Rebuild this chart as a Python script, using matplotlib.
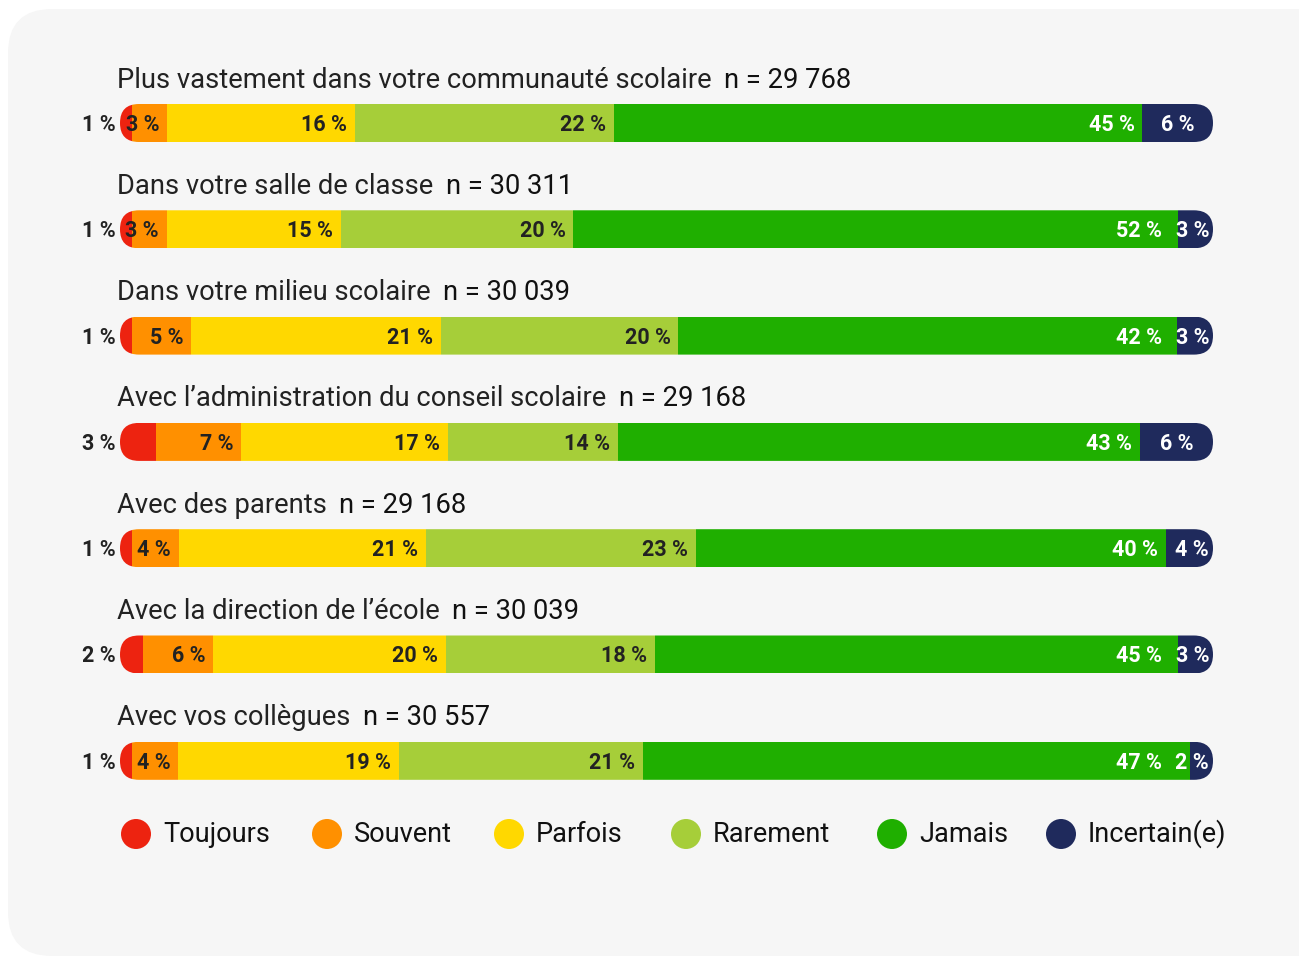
import matplotlib
matplotlib.use("Agg")
import matplotlib.pyplot as plt
from matplotlib.patches import FancyBboxPatch, Circle
import numpy as np

plt.rcParams['font.family'] = ['Roboto', 'DejaVu Sans']

# ---- data ----
questions = [
    "Plus vastement dans votre communauté scolaire",
    "Dans votre salle de classe",
    "Dans votre milieu scolaire",
    "Avec l’administration du conseil scolaire",
    "Avec des parents",
    "Avec la direction de l’école",
    "Avec vos collègues",
]
n_labels = ["n = 29 768", "n = 30 311", "n = 30 039", "n = 29 168",
            "n = 29 168", "n = 30 039", "n = 30 557"]
categories = ["Toujours", "Souvent", "Parfois", "Rarement", "Jamais", "Incertain(e)"]
toujours = [1, 1, 1, 3, 1, 2, 1]
souvent = [3, 3, 5, 7, 4, 6, 4]
parfois = [16, 15, 21, 17, 21, 20, 19]
rarement = [22, 20, 20, 14, 23, 18, 21]
jamais = [45, 52, 42, 43, 40, 45, 47]
incertain = [6, 3, 3, 6, 4, 3, 2]

colors = ["#ED2310", "#FF9000", "#FFD800", "#A6CE39", "#1FAF00", "#1F2A5C"]
text_colors = ["#222222", "#222222", "#222222", "#222222", "white", "white"]

W, H = 1299, 957
fig = plt.figure(figsize=(W / 100, H / 100), dpi=100)
fig.patch.set_facecolor("white")

# background card (pixel-space overlay)
bg = fig.add_axes([0, 0, 1, 1])
bg.set_xlim(0, W)
bg.set_ylim(H, 0)
bg.axis("off")
bg.add_patch(FancyBboxPatch((8, 9), 1340, 947,
                            boxstyle="round,pad=0,rounding_size=44",
                            facecolor="#F6F6F6", edgecolor="none"))

# bar axes: x in percent of bar length, y in rows
x0_px, bar_w_px = 120, 1093
row0_px, row_step_px = 123, 106.3
bar_h_px = 38
ax = fig.add_axes([x0_px / W, 0, bar_w_px / W, 1])
ax.set_xlim(0, 100)
ax.set_ylim((H - row0_px) / row_step_px, -row0_px / row_step_px)
ax.axis("off")
ax.patch.set_alpha(0)

px_x = 100 / bar_w_px          # data units per pixel in x
px_y = 1 / row_step_px         # data units per pixel in y
bar_h = bar_h_px * px_y

series = [toujours, souvent, parfois, rarement, jamais, incertain]
values = np.array(series, dtype=float).T  # rows x categories

LBL = dict(fontsize=15.5, fontweight="semibold")
dy = 2 * px_y  # nudge labels onto the optical centre of the bar

renderer = fig.canvas.get_renderer()
inv = ax.transData.inverted()

for i, q in enumerate(questions):
    row = values[i]
    shares = row / row.sum() * 100
    lefts = np.concatenate([[0], np.cumsum(shares)[:-1]])
    last = len(shares) - 1

    # pill-shaped clip for the whole stacked bar
    r = bar_h_px / 2
    clip = FancyBboxPatch((0, i - bar_h / 2), 100, bar_h,
                          boxstyle=f"round,pad=0,rounding_size={r * px_x}",
                          mutation_aspect=px_y / px_x,
                          facecolor="none", edgecolor="none",
                          transform=ax.transData)
    ax.add_patch(clip)

    bars = ax.barh([i] * len(shares), shares, left=lefts, height=bar_h,
                   color=colors, edgecolor="none")
    for b in bars:
        b.set_clip_path(clip)

    y = i + dy
    # last segment label first, so the one before it can keep clear of it
    s_last, l_last = shares[last], lefts[last]
    if s_last / px_x > 60:
        tl = ax.text(l_last + s_last / 2, y, f"{int(row[last])} %",
                     ha="center", va="center", color=text_colors[last], **LBL)
    else:
        tl = ax.text(100 - 4 * px_x, y, f"{int(row[last])} %",
                     ha="right", va="center", color=text_colors[last], **LBL)
    last_left = inv.transform(tl.get_window_extent(renderer))[0, 0]

    for k in range(last):
        v, s, l = row[k], shares[k], lefts[k]
        label = f"{int(v)} %"
        if k == 0:
            ax.text(-4 * px_x, y, label, ha="right", va="center",
                    color="#222222", **LBL)
        else:
            xr = l + s - 8 * px_x
            if k == last - 1:
                xr = min(xr, last_left - 14 * px_x)
            ax.text(xr, y, label, ha="right", va="center",
                    color=text_colors[k], **LBL)

    t = ax.text(-3 * px_x, i - 43 * px_y, q, ha="left", va="center",
                fontsize=19.7, color="#222222")
    ax.annotate(n_labels[i], xy=(1, 0.5), xycoords=t, xytext=(9, 0),
                textcoords="offset points", ha="left", va="center",
                fontsize=19.7, color="#111111")

# legend row
leg_x = [136, 327, 509, 686, 892, 1061]
leg_y = 834
for cx, c, name in zip(leg_x, colors, categories):
    bg.add_patch(Circle((cx, leg_y), 15, facecolor=c, edgecolor="none"))
    bg.text(cx + 27, leg_y, name, ha="left", va="center",
            fontsize=19.5, color="#111111")

fig.savefig("out.png", dpi=100, facecolor="white")
